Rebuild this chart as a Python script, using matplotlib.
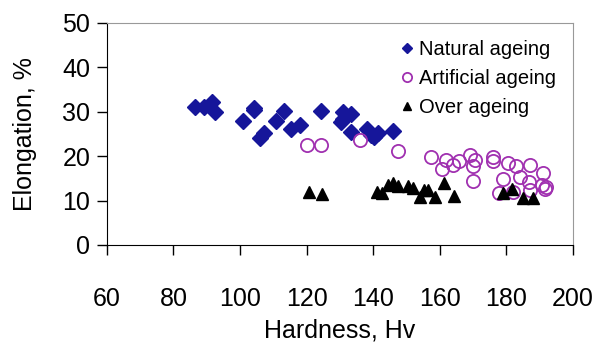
import matplotlib
matplotlib.use("Agg")
import matplotlib.pyplot as plt

plt.rcParams["font.family"] = ["Liberation Sans", "DejaVu Sans"]

# Natural ageing (diamonds)
nat_hv = [86.6, 89.1, 91.5, 92.4, 100.9, 104.2, 104.3, 106.0, 107.2, 110.9, 113.3,
          115.2, 118.0, 124.2, 130.2, 130.8, 131.0, 133.2, 133.2, 138.0, 139.2,
          140.2, 141.5, 146.0]
nat_el = [31.1, 31.1, 32.1, 30.0, 27.8, 30.9, 30.4, 24.1, 25.1, 27.8, 30.1,
          26.0, 26.9, 30.1, 27.7, 28.3, 29.9, 29.5, 25.4, 26.1, 24.8,
          24.4, 25.2, 25.6]

# Artificial ageing (open circles)
art_hv = [120.0, 124.2, 136.0, 147.3, 157.3, 160.8, 162.0, 164.0, 165.8, 169.0,
          170.0, 170.0, 170.5, 175.9, 176.0, 177.9, 178.9, 180.5, 182.0, 182.9,
          184.1, 186.9, 187.1, 187.1, 190.6, 191.1, 191.6, 192.0]
art_el = [22.6, 22.6, 23.7, 21.2, 19.9, 17.1, 19.2, 18.1, 19.0, 20.2,
          17.7, 14.3, 19.2, 18.8, 19.9, 11.7, 14.8, 18.4, 12.0, 17.7,
          15.4, 14.1, 18.1, 12.4, 13.5, 16.2, 12.6, 13.0]

# Over ageing (triangles)
over_hv = [120.8, 124.6, 141.0, 142.5, 144.5, 146.0, 147.5, 150.5, 152.0, 154.0,
           155.2, 156.5, 158.7, 161.2, 164.2, 179.0, 181.6, 184.9, 188.1]
over_el = [11.9, 11.5, 11.9, 11.8, 13.5, 13.9, 13.3, 13.2, 12.9, 10.9,
           12.4, 12.4, 10.9, 13.9, 11.1, 11.8, 12.6, 10.5, 10.5]

x_ticks = [60, 80, 100, 120, 140, 160, 180, 200]
y_ticks = [0, 10, 20, 30, 40, 50]

fig = plt.figure(figsize=(6.0, 3.52), dpi=100)
ax = fig.add_axes([0.178, 0.304, 0.777, 0.631])

ax.plot(nat_hv, nat_el, linestyle="none", marker="D", markersize=8,
        color="#16169a", label="Natural ageing")
ax.plot(art_hv, art_el, linestyle="none", marker="o", markersize=9.5,
        markerfacecolor="none", markeredgecolor="#a030b0", markeredgewidth=1.3,
        label="Artificial ageing")
ax.plot(over_hv, over_el, linestyle="none", marker="^", markersize=9,
        color="black", label="Over ageing")

ax.set_xlim(60, 200)
ax.set_ylim(0, 50)
ax.set_xticks(x_ticks)
ax.set_yticks(y_ticks)
ax.tick_params(direction="out", length=7, width=1, labelsize=18, pad=5)
ax.tick_params(axis="x", pad=23)

for side in ["top", "right"]:
    ax.spines[side].set_color("#999999")
for side in ["left", "bottom"]:
    ax.spines[side].set_color("black")

ax.set_xlabel("Hardness, Hv", fontsize=18, labelpad=6)
ax.set_ylabel("Elongation, %", fontsize=18, labelpad=18)

ax.legend(loc="upper left", bbox_to_anchor=(0.6, 0.96), frameon=False,
          fontsize=14.5, handletextpad=0.0, labelspacing=0.5,
          handlelength=1.2, markerscale=0.7, borderaxespad=0)

fig.savefig("out.png", dpi=100)
